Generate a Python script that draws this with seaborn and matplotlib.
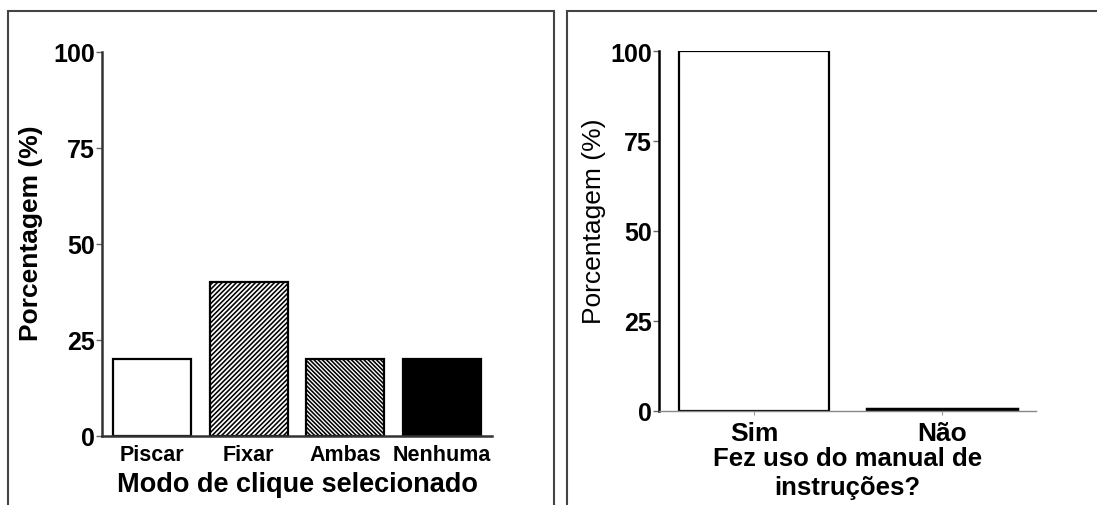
import matplotlib
matplotlib.use("Agg")
import matplotlib.pyplot as plt
import seaborn as sns
import pandas as pd
from matplotlib.patches import Rectangle

# Data
modes = ["Piscar", "Fixar", "Ambas", "Nenhuma"]
mode_pct = [20, 40, 20, 20]
manual = ["Sim", "Não"]
manual_pct = [100, 0.5]
yticks = [0, 25, 50, 75, 100]

sns.set_style("white")
plt.rcParams["font.family"] = ["Liberation Sans", "DejaVu Sans"]
plt.rcParams["text.color"] = "black"
plt.rcParams["axes.labelcolor"] = "black"
plt.rcParams["xtick.color"] = "black"
plt.rcParams["ytick.color"] = "black"
plt.rcParams["hatch.linewidth"] = 1.15
plt.rcParams["hatch.color"] = "black"

fig = plt.figure(figsize=(10.97, 5.06), dpi=100)
W, H = 1097, 506

def fx(px):
    return px / W

def fy(py):
    return 1 - py / H

# Panel frames
fig.patches.append(Rectangle((fx(8), fy(520)), fx(554 - 8), (520 - 12) / H,
                             transform=fig.transFigure, fill=False,
                             edgecolor="#444444", linewidth=1.5, zorder=0))
fig.patches.append(Rectangle((fx(567), fy(520)), fx(1110 - 567), (520 - 12) / H,
                             transform=fig.transFigure, fill=False,
                             edgecolor="#444444", linewidth=1.5, zorder=0))

# Left panel
ax1 = fig.add_axes([fx(102), fy(437), fx(492 - 102), (437 - 53) / H])
df1 = pd.DataFrame({"modo": modes, "pct": mode_pct})
sns.barplot(data=df1, x="modo", y="pct", ax=ax1, color="white",
            edgecolor="black", linewidth=1.6, width=0.81, saturation=1)
styles = [("white", ""), ("white", "///////"), ("white", "\\" * 8), ("black", "")]
for p, (fc, h) in zip(ax1.patches, styles):
    p.set_facecolor(fc)
    p.set_hatch(h)
    p.set_edgecolor("black")
ax1.set_ylim(0, 100)
ax1.set_xlim(-0.52, 3.52)
ax1.set_yticks(yticks)
ax1.set_yticklabels([str(t) for t in yticks], fontsize=18, fontweight="bold")
ax1.set_xticks(range(len(modes)))
ax1.set_xticklabels(modes, fontsize=15.5, fontweight="bold")
ax1.tick_params(axis="y", direction="out", length=4, width=1, color="#666666", pad=1, left=True)
ax1.tick_params(axis="x", length=0, pad=6)
ax1.set_xlabel("Modo de clique selecionado", fontsize=19.5, fontweight="bold")
ax1.xaxis.set_label_coords(0.5, -0.09)
ax1.set_ylabel("Porcentagem (%)", fontsize=19, fontweight="bold")
ax1.yaxis.set_label_coords(-0.152, 0.53)
for s in ["top", "right"]:
    ax1.spines[s].set_visible(False)
ax1.spines["left"].set_linewidth(1.8)
ax1.spines["left"].set_color("#333333")
ax1.spines["bottom"].set_linewidth(1.8)
ax1.spines["bottom"].set_color("#333333")

# Right panel
ax2 = fig.add_axes([fx(659), fy(412), fx(1036 - 659), (412 - 52) / H])
df2 = pd.DataFrame({"manual": manual, "pct": manual_pct})
sns.barplot(data=df2, x="manual", y="pct", ax=ax2, color="white",
            edgecolor="black", linewidth=1.6, width=0.80, saturation=1)
for p in ax2.patches:
    p.set_facecolor("white")
    p.set_edgecolor("black")
ax2.patches[1].set_linewidth(2.5)
ax2.set_ylim(0, 100)
ax2.set_xlim(-0.505, 1.5)
ax2.set_yticks(yticks)
ax2.set_yticklabels([str(t) for t in yticks], fontsize=18, fontweight="bold")
ax2.set_xticks(range(len(manual)))
ax2.set_xticklabels(manual, fontsize=19, fontweight="bold")
ax2.tick_params(axis="y", direction="out", length=4, width=1, color="#666666", pad=1, left=True)
ax2.tick_params(axis="x", direction="out", length=3, width=0.8, color="#999999", pad=4, bottom=True)
ax2.set_xlabel("Fez uso do manual de\ninstruções?", fontsize=18.5, fontweight="bold",
               linespacing=1.25)
ax2.xaxis.set_label_coords(0.5, -0.097)
ax2.set_ylabel("Porcentagem (%)", fontsize=19)
ax2.yaxis.set_label_coords(-0.14, 0.53)
for s in ["top", "right"]:
    ax2.spines[s].set_visible(False)
ax2.spines["left"].set_linewidth(1.8)
ax2.spines["left"].set_color("black")
ax2.spines["bottom"].set_linewidth(1.0)
ax2.spines["bottom"].set_color("#888888")

fig.savefig("out.png", dpi=100)
